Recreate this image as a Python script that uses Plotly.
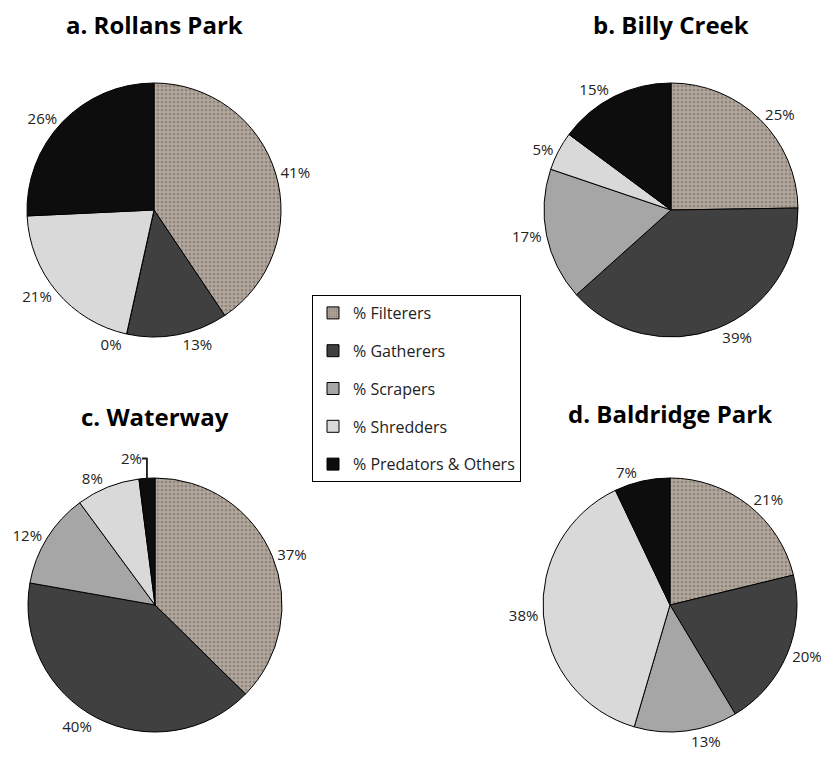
import plotly.graph_objects as go

groups = ["% Filterers", "% Gatherers", "% Scrapers", "% Shredders", "% Predators & Others"]
colors = ["#aa9e94", "#404040", "#a6a6a6", "#d9d9d9", "#0d0d0d"]

sites = ["a. Rollans Park", "b. Billy Creek", "c. Waterway", "d. Baldridge Park"]
rollans_park = [41, 13, 0, 21, 26]
billy_creek = [25, 39, 17, 5, 15]
waterway = [37, 40, 12, 8, 2]
baldridge_park = [21, 20, 13, 38, 7]
site_values = [rollans_park, billy_creek, waterway, baldridge_park]

W, H = 821, 759
FONT = "'Open Sans', Lato, sans-serif"

# pie centers / radius in window pixels
centers = [(154, 210), (671, 210), (155, 605), (670, 605)]
R = 127
title_pos = [(154, 25), (671, 25), (155, 416), (670, 413)]

pattern_shapes = [".", "", "", "", ""]


def px(x):
    return x / W


def py(y):
    return 1 - y / H


fig = go.Figure()
for name, vals, (cx, cy) in zip(sites, site_values, centers):
    fig.add_trace(go.Pie(
        labels=groups, values=vals, sort=False, direction="clockwise", rotation=0,
        marker=dict(colors=colors, line=dict(color="black", width=1),
                    pattern=dict(shape=pattern_shapes, fgcolor="#6f645c", bgcolor="#b5aaa0",
                                 size=4, solidity=0.45, fillmode="overlay")),
        texttemplate="%{value}%", textposition="outside", automargin=False,
        textfont=dict(family=FONT, size=15, color="#222"),
        domain=dict(x=[px(cx - R), px(cx + R)], y=[py(cy + R), py(cy - R)]),
        showlegend=False, hoverinfo="label+value", name=name,
    ))

# legend entries as empty bars (so the swatch can carry the texture)
for i, (g, c) in enumerate(zip(groups, colors)):
    fig.add_trace(go.Bar(
        x=[None], y=[None], name=g, legendgroup=f"g{i}",
        marker=dict(color=c, line=dict(color="black", width=1),
                    pattern=dict(shape=pattern_shapes[i], fgcolor="#6f645c", bgcolor="#b5aaa0",
                                 size=3, solidity=0.45) if pattern_shapes[i] else None),
    ))

for name, (tx, ty) in zip(sites, title_pos):
    fig.add_annotation(text=f"<b>{name}</b>", x=px(tx), y=py(ty), xref="paper", yref="paper",
                       showarrow=False, font=dict(family=FONT, size=24, color="black"),
                       xanchor="center", yanchor="middle")

fig.update_layout(
    width=W, height=H, margin=dict(l=0, r=0, t=0, b=0, autoexpand=False),
    paper_bgcolor="white", plot_bgcolor="white",
    xaxis=dict(visible=False), yaxis=dict(visible=False),
    legend=dict(x=px(312), y=py(295), xanchor="left", yanchor="top",
                bordercolor="black", borderwidth=1, bgcolor="white",
                font=dict(family=FONT, size=16, color="#222"), tracegroupgap=14,
                itemwidth=30),
    showlegend=True,
)

fig.write_html(
    "out.html",
    config={"responsive": False, "displayModeBar": False},
    post_script="document.body.style.margin='0';document.body.style.overflow='hidden';",
)
